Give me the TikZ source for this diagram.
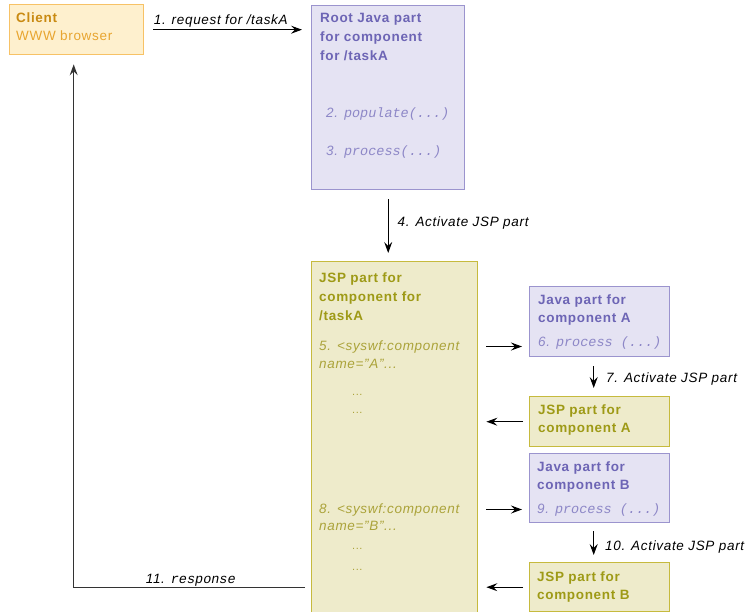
\documentclass[tikz,border=0pt]{standalone}
\usepackage{fontspec}
\setmainfont{Liberation Sans}[LetterSpace=5]
\newfontfamily\codefont{Liberation Mono}
\usetikzlibrary{arrows.meta}

\definecolor{clientfill}{HTML}{FEF0CE}
\definecolor{clientline}{HTML}{F7C266}
\definecolor{clienttext}{HTML}{C98A12}
\definecolor{clientsub}{HTML}{E8A530}
\definecolor{javafill}{HTML}{E5E3F3}
\definecolor{javaline}{HTML}{9B94CE}
\definecolor{javatext}{HTML}{6D65B5}
\definecolor{javacode}{HTML}{8D87C7}
\definecolor{jspfill}{HTML}{EEEBCB}
\definecolor{jspline}{HTML}{C6BA3E}
\definecolor{jsptext}{HTML}{9E9A16}
\definecolor{jspcode}{HTML}{ABA33A}

\newcommand\boxfont{\fontsize{13.5}{19}\selectfont}
\newcommand\codecall[2]{{\itshape #1} {\codefont\itshape #2}}

\begin{document}
\begin{tikzpicture}[x=1pt,y=-1pt,
    box/.style={draw,line width=1.4pt,anchor=north west,inner sep=0},
    clientbox/.style={box,draw=clientline,fill=clientfill},
    javabox/.style={box,draw=javaline,fill=javafill},
    jspbox/.style={box,draw=jspline,fill=jspfill},
    head/.style={anchor=north west,inner sep=0,align=left,font=\boxfont\bfseries},
    call/.style={anchor=base west,inner sep=0,font=\boxfont},
    tag/.style={call,text=jspcode,font=\boxfont\itshape},
    dotrow/.style={anchor=base west,inner sep=0,text=jspcode,font=\fontsize{11}{12}\selectfont},
    lbl/.style={anchor=base west,inner sep=0,font=\boxfont\itshape},
    msg/.style={-{Stealth[length=11pt,width=8pt,inset=4pt]},line width=1pt}]
  \useasboundingbox (0,0) rectangle (749,612);
  % boxes
  \node[clientbox,minimum width=134pt,minimum height=50pt] (client) at (9,4) {};
  \node[javabox,minimum width=153pt,minimum height=184pt] (root) at (311,5) {};
  \node[jspbox,minimum width=166pt,minimum height=360pt] (jsp) at (311,261) {};
  \node[javabox,minimum width=140pt,minimum height=70pt] (javaA) at (529,286) {};
  \node[jspbox,minimum width=140pt,minimum height=50pt] (jspA) at (529,396) {};
  \node[javabox,minimum width=140pt,minimum height=69pt] (javaB) at (529,453) {};
  \node[jspbox,minimum width=140pt,minimum height=49pt] (jspB) at (529,562) {};
  % texts in the boxes
  \node[head,text=clienttext] (clientname) at (16,13)
    {Client\\[-1pt]{\mdseries\color{clientsub}WWW browser}};
  \node[head,text=javatext] (roottitle) at (320,13.5) {Root Java part\\for component\\for /taskA};
  \node[call,text=javacode] (populate) at (326,117.5) {\codecall{2.}{populate(...)}};
  \node[call,text=javacode] (process) at (326,156) {\codecall{3.}{process(...)}};
  \node[head,text=jsptext] (jsptitle) at (319,273) {JSP part for\\component for\\/taskA};
  \node[tag] (tagA) at (319,350) {5. <syswf:component};
  \node[tag] (nameA) at (319,368) {name="A"...};
  \node[tag] (tagB) at (319,513) {8. <syswf:component};
  \node[tag] (nameB) at (319,530) {name="B"...};
  \foreach \y [count=\i] in {395,413,549,570}
    \node[dotrow] (dots\i) at (352,\y) {...};
  \node[head,text=javatext] (javaAtitle) at (538,295) {Java part for\\[-1pt]component A};
  \node[call,text=javacode] (procA) at (538,346.5) {\codecall{6.}{process (...)}};
  \node[head,text=jsptext] (jspAtitle) at (538,405) {JSP part for\\[-1pt]component A};
  \node[head,text=javatext] (javaBtitle) at (537,461.5) {Java part for\\[-1pt]component B};
  \node[call,text=javacode] (procB) at (537,513) {\codecall{9.}{process (...)}};
  \node[head,text=jsptext] (jspBtitle) at (537,571.5) {JSP part for\\[-1pt]component B};
  % messages
  \draw[msg,shorten <=9pt,shorten >=9pt] (client.east) -- (client.east -| root.west)
    node[lbl,pos=0,xshift=9pt,yshift=5.5pt] (request) {1. request for /taskA};
  \draw[msg,shorten <=9pt,shorten >=8pt] (root.south) -- (root.south |- jsp.north)
    node[lbl,midway,xshift=9pt,yshift=-0.5pt] (activateRoot) {4. Activate JSP part};
  \draw[msg,shorten <=8pt,shorten >=7pt] (jsp.east |- tagA) -- (javaA.west |- tagA);
  \draw[msg,shorten <=9pt,shorten >=8pt] ([xshift=-6pt]javaA.south) -- ([xshift=-6pt]jspA.north)
    node[lbl,midway,xshift=12pt,yshift=-5.5pt] (activateA) {7. Activate JSP part};
  \draw[msg,shorten <=6pt,shorten >=8pt] (jspA.west) -- (jspA.west -| jsp.east);
  \draw[msg,shorten <=8pt,shorten >=7pt] (jsp.east |- tagB) -- (javaB.west |- tagB);
  \draw[msg,shorten <=8pt,shorten >=7pt] ([xshift=-6pt]javaB.south) -- ([xshift=-6pt]jspB.north)
    node[lbl,midway,xshift=11pt,yshift=-7.3pt] (activateB) {10. Activate JSP part};
  \draw[msg,shorten <=6pt,shorten >=8pt] (jspB.west) -- (jspB.west -| jsp.east);
  \draw[msg,draw=black!80,shorten <=6pt,shorten >=9pt] (jsp.west |- jspB.west) -| ([xshift=-3pt]client.south)
    node[call,pos=0.349,yshift=3.5pt] (response) {\codecall{11.}{response}};
\end{tikzpicture}
\end{document}
